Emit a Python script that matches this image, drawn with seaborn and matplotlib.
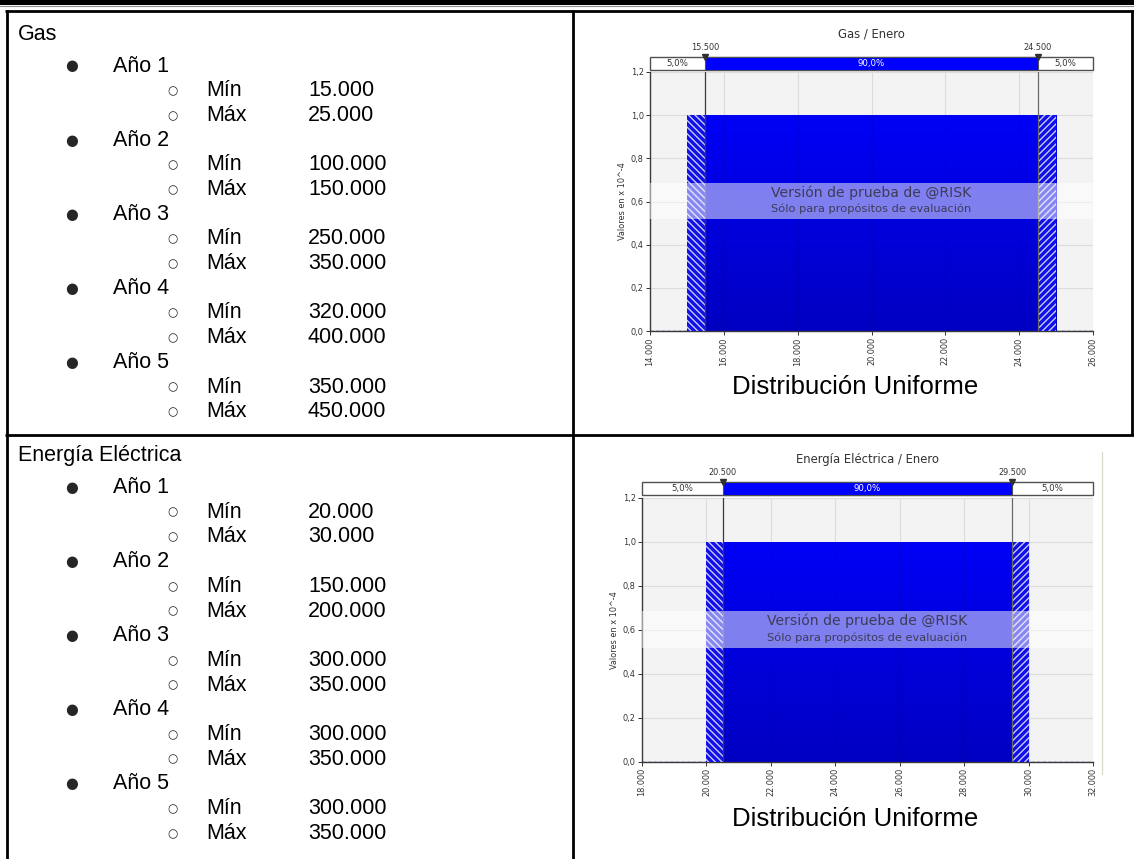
import numpy as np
import matplotlib
matplotlib.use("Agg")
import matplotlib.pyplot as plt
import seaborn as sns
from matplotlib.patches import Rectangle
from matplotlib.colors import LinearSegmentedColormap

# ---- datos ----
anios = ["Año 1", "Año 2", "Año 3", "Año 4", "Año 5"]
gas_min = [15000, 100000, 250000, 320000, 350000]
gas_max = [25000, 150000, 350000, 400000, 450000]
ee_min = [20000, 150000, 300000, 300000, 300000]
ee_max = [30000, 200000, 350000, 350000, 350000]

gas_ticks = [14000, 16000, 18000, 20000, 22000, 24000, 26000]
ee_ticks = [18000, 20000, 22000, 24000, 26000, 28000, 30000, 32000]
y_ticks = [0.0, 0.2, 0.4, 0.6, 0.8, 1.0, 1.2]
cola = 0.05          # probabilidad en cada cola
mes = "Enero"
marca_1 = "Versión de prueba de @RISK"
marca_2 = "Sólo para propósitos de evaluación"

sns.set_theme(style="white")
plt.rcParams["font.family"] = ["Liberation Sans", "DejaVu Sans"]

W, H = 1134, 859
fig = plt.figure(figsize=(W / 100, H / 100), dpi=100)
fig.patch.set_facecolor("white")


def miles(v):
    return f"{v:,.0f}".replace(",", ".")


def dec(v, n=1):
    return f"{v:.{n}f}".replace(".", ",")


def fx(px):
    return px / W


def fy(py):
    return 1 - py / H


# ---- tabla de fondo (coordenadas en píxeles) ----
bg = fig.add_axes([0, 0, 1, 1], zorder=0)
bg.set_xlim(0, W)
bg.set_ylim(H, 0)
bg.axis("off")
bg.add_patch(Rectangle((0, 0), W, 4.5, facecolor="black", lw=0))
bg.plot([0, W], [5.6, 5.6], color="#8c8c8c", lw=0.8)
lw_t = 2.0
bg.plot([5, W], [10.5, 10.5], color="black", lw=lw_t, solid_capstyle="butt")
bg.plot([5, W], [434.5, 434.5], color="black", lw=lw_t, solid_capstyle="butt")
bg.plot([6.5, 6.5], [9.5, H], color="black", lw=lw_t, solid_capstyle="butt")
bg.plot([572.5, 572.5], [9.5, H], color="black", lw=lw_t, solid_capstyle="butt")
bg.plot([1131.5, 1131.5], [9.5, 435], color="black", lw=lw_t, solid_capstyle="butt")
bg.plot([1102, 1102], [452, 774], color="#d9d9c9", lw=0.9)

txt_kw = dict(fontsize=15.5, color="black", va="center")
pitch = 24.7


def lista(titulo, mins, maxs, yc):
    bg.text(18, yc, titulo, **txt_kw)
    y = yc + 31.5
    for a, lo, hi in zip(anios, mins, maxs):
        bg.text(72, y, "●", ha="center", va="center", fontsize=10.5,
                family=["DejaVu Sans"])
        bg.text(113, y, a, **txt_kw)
        y += pitch
        for et, v in (("Mín", lo), ("Máx", hi)):
            bg.text(172, y, "○", ha="center", va="center", fontsize=8.5,
                    family=["DejaVu Sans"], color="#222222")
            bg.text(206, y, et, **txt_kw)
            bg.text(308, y, miles(v), **txt_kw)
            y += pitch


lista("Gas", gas_min, gas_max, 34.5)
lista("Energía Eléctrica", ee_min, ee_max, 456)

azul = LinearSegmentedColormap.from_list("azul", ["#0000c2", "#0000f6"])
small = 5.9
gris = "#333333"


def panel(left, right, top, bottom, band_top, band_bot, nombre, lo, hi, ticks, label_y):
    ax = fig.add_axes([fx(left), fy(bottom), fx(right - left), (bottom - top) / H], zorder=2)
    bax = fig.add_axes([fx(left), fy(band_bot), fx(right - left), (band_bot - band_top) / H], zorder=3)
    x0, x1 = ticks[0], ticks[-1]
    dens = 1e4 / (hi - lo)            # densidad uniforme en unidades de 10^-4
    p_lo = lo + cola * (hi - lo)
    p_hi = hi - cola * (hi - lo)

    ax.set_facecolor("#f3f3f3")
    ax.grid(True, color="#dcdcdc", lw=0.8)
    ax.set_axisbelow(True)

    # línea base de la densidad
    sns.lineplot(x=[x0, x1], y=[0, 0], ax=ax, color="#20209a", lw=1.0, zorder=1.5)
    ax.lines[-1].set_linestyle((0, (2.5, 1.5)))

    bar = ax.bar(lo, dens, width=hi - lo, align="edge", color="#0000e0", lw=0, zorder=2)[0]
    im = ax.imshow(np.linspace(0, 1, 256)[:, None], extent=[lo, hi, 0, dens],
                   origin="lower", aspect="auto", cmap=azul, zorder=2.1,
                   interpolation="bilinear")
    im.set_clip_path(bar)

    # colas sombreadas
    for a, b, h in ((lo, p_lo, "\\\\\\\\\\"), (p_hi, hi, "/////")):
        ax.bar(a, dens, width=b - a, align="edge", facecolor="#1010e6",
               edgecolor="#c8c8ff", hatch=h, lw=0, zorder=3)

    inner = [t for t in ticks if lo < t < hi]
    ax.vlines(inner, 0, dens, colors="black", alpha=0.08, lw=0.8, zorder=3.5)

    for p, c in ((p_lo, "#3a3a3a"), (p_hi, "#6a6a6a")):
        ax.axvline(p, color=c, lw=0.9, zorder=4)

    # marca de agua
    ax.axhspan(0.52, 0.685, facecolor="white", alpha=0.5, lw=0, zorder=5)
    xc = (x0 + x1) / 2
    ax.text(xc, 0.64, marca_1, ha="center", va="center", fontsize=10.1,
            color="#3c3c58", family=["DejaVu Sans"], zorder=6)
    ax.text(xc, 0.565, marca_2, ha="center", va="center", fontsize=8.2,
            color="#3c3c58", family=["DejaVu Sans"], zorder=6)

    ax.set_xlim(x0, x1)
    ax.set_ylim(0, 1.2)
    ax.set_xticks(ticks)
    ax.set_xticklabels([miles(t) for t in ticks], rotation=90, family=["DejaVu Sans"])
    ax.set_yticks(y_ticks)
    ax.set_yticklabels([dec(t) for t in y_ticks], family=["DejaVu Sans"])
    ax.tick_params(labelsize=small, colors=gris, length=3, width=0.7, pad=1.5,
                   left=True, bottom=True)
    for s in ("top", "right"):
        ax.spines[s].set_visible(False)
    for s in ("left", "bottom"):
        ax.spines[s].set_color("#3a3a3a")
        ax.spines[s].set_linewidth(1.0)
    ax.set_ylabel("Valores en x 10^-4", fontsize=small, color=gris,
                  family=["DejaVu Sans"], labelpad=3)

    # banda de percentiles
    bax.set_xlim(x0, x1)
    bax.set_ylim(0, 1)
    bax.axis("off")
    bax.add_patch(Rectangle((x0, 0), x1 - x0, 1, facecolor="white",
                            edgecolor="#505050", lw=1.0, clip_on=False))
    bax.add_patch(Rectangle((p_lo, 0), p_hi - p_lo, 1, facecolor="#0000ff",
                            edgecolor="#505050", lw=0.8, clip_on=False))
    pct = f"{dec(cola * 100)}%"
    mid = f"{dec((1 - 2 * cola) * 100)}%"
    bax.text((x0 + p_lo) / 2, 0.5, pct, ha="center", va="center", fontsize=6.2,
             color=gris, family=["DejaVu Sans"])
    bax.text((p_lo + p_hi) / 2, 0.5, mid, ha="center", va="center", fontsize=6.2,
             color="white", family=["DejaVu Sans"])
    bax.text((p_hi + x1) / 2, 0.5, pct, ha="center", va="center", fontsize=6.2,
             color=gris, family=["DejaVu Sans"])
    bax.plot([p_lo, p_hi], [1.0, 1.0], marker="v", ls="none", color="#303030",
             ms=4.5, clip_on=False)
    for p in (p_lo, p_hi):
        bax.text(p, 1.75, miles(p), ha="center", va="center", fontsize=small,
                 color=gris, family=["DejaVu Sans"])
    bax.text(xc, 2.75, f"{nombre} / {mes}", ha="center", va="center", fontsize=8.4,
             color=gris, family=["DejaVu Sans"])

    bg.text(855, label_y, "Distribución Uniforme", ha="center", va="center",
            fontsize=18.5, color="black")


panel(650, 1093, 72, 331, 57, 70, "Gas", gas_min[0], gas_max[0], gas_ticks, 387)
panel(642, 1093, 498, 762, 482, 495, "Energía Eléctrica", ee_min[0], ee_max[0],
      ee_ticks, 819)

fig.savefig("out.png", dpi=100, facecolor="white")
